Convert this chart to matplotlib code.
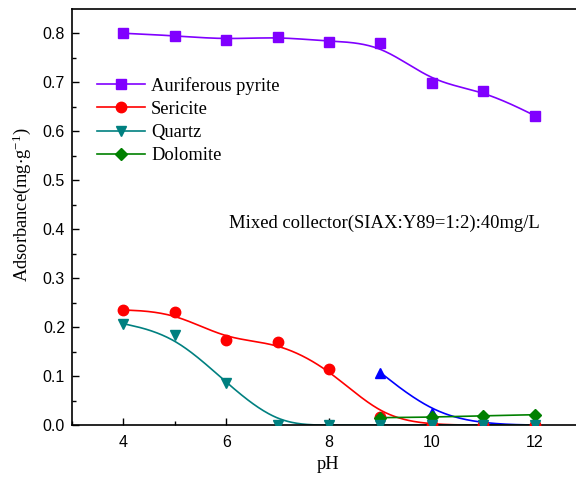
import numpy as np
import matplotlib
matplotlib.use('Agg')
import matplotlib.pyplot as plt
from matplotlib.ticker import MultipleLocator

ph = [4, 5, 6, 7, 8, 9, 10, 11, 12]
pyrite = [0.800, 0.795, 0.787, 0.793, 0.783, 0.780, 0.699, 0.683, 0.632]
sericite = [0.235, 0.230, 0.174, 0.169, 0.115, 0.017, 0.0, 0.0, 0.0]
quartz = [0.207, 0.183, 0.086, 0.0, 0.0, 0.0, 0.0, 0.0, 0.0]
ph_dolo = [9, 10, 11, 12]
dolomite = [0.015, 0.016, 0.019, 0.021]
ph_blue = [9, 10, 11, 12]
blue_vals = [0.107, 0.025, 0.002, 0.0]


def bspline(x, y, n=40):
    """uniform cubic B-spline, ends clamped (like Origin's B-spline line)"""
    px = np.r_[[x[0]] * 2, x, [x[-1]] * 2].astype(float)
    py = np.r_[[y[0]] * 2, y, [y[-1]] * 2].astype(float)
    t = np.linspace(0, 1, n, endpoint=False)
    b0 = (1 - t) ** 3 / 6
    b1 = (3 * t ** 3 - 6 * t ** 2 + 4) / 6
    b2 = (-3 * t ** 3 + 3 * t ** 2 + 3 * t + 1) / 6
    b3 = t ** 3 / 6
    xs, ys = [], []
    for i in range(len(px) - 3):
        xs.append(b0 * px[i] + b1 * px[i + 1] + b2 * px[i + 2] + b3 * px[i + 3])
        ys.append(b0 * py[i] + b1 * py[i + 1] + b2 * py[i + 2] + b3 * py[i + 3])
    xs.append([x[-1]])
    ys.append([y[-1]])
    return np.concatenate(xs), np.concatenate(ys)


serif = 'Liberation Serif'
sans = 'Liberation Sans'
plt.rcParams['mathtext.fontset'] = 'custom'
plt.rcParams['mathtext.rm'] = serif
plt.rcParams['mathtext.default'] = 'regular'

fig = plt.figure(figsize=(5.76, 4.79), dpi=100)
ax = fig.add_axes([0.125, 0.1127, 0.8924, 0.868])

series = [
    (ph, sericite, '#FF0000', 'o', 'Sericite'),
    (ph_blue, blue_vals, '#0000FF', '^', None),
    (ph_dolo, dolomite, '#008000', 'D', 'Dolomite'),
    (ph, quartz, '#008080', 'v', 'Quartz'),
    (ph, pyrite, '#8000FF', 's', 'Auriferous pyrite'),
]
handles = {}
for x, y, c, m, lab in series:
    sx, sy = bspline(x, y)
    ax.plot(sx, sy, color=c, lw=1.2, zorder=2)
    ms = 6.5 if m == 'D' else 7.5
    ax.plot(x, y, ls='none', marker=m, color=c, ms=ms, zorder=3)
    if lab:
        handles[lab] = ax.plot([], [], color=c, lw=1.2, marker=m, ms=ms)[0]

order = ['Auriferous pyrite', 'Sericite', 'Quartz', 'Dolomite']
ax.legend([handles[k] for k in order], order, loc='upper left',
          bbox_to_anchor=(0.035, 0.855), frameon=False,
          prop={'family': serif, 'size': 13.3}, handlelength=2.6,
          handletextpad=0.3, labelspacing=0.33, borderaxespad=0)

ax.text(0.305, 0.474, 'Mixed collector(SIAX:Y89=1:2):40mg/L',
        transform=ax.transAxes, family=serif, fontsize=13.4)

ax.set_xlim(3, 13)
ax.set_ylim(0, 0.849)
ax.xaxis.set_major_locator(MultipleLocator(2))
ax.xaxis.set_minor_locator(MultipleLocator(1))
ax.yaxis.set_major_locator(MultipleLocator(0.1))
ax.yaxis.set_minor_locator(MultipleLocator(0.05))
ax.tick_params(which='both', direction='in', top=False, right=False)
ax.tick_params(which='major', length=5, width=1, labelsize=11.5)
ax.tick_params(axis='x', which='major', pad=7)
ax.tick_params(axis='y', which='major', pad=5)
ax.tick_params(which='minor', length=3, width=1)
for lbl in ax.get_xticklabels() + ax.get_yticklabels():
    lbl.set_family(sans)
ax.xaxis.set_major_formatter(plt.FuncFormatter(lambda v, p: '%d' % v))
ax.yaxis.set_major_formatter(plt.FuncFormatter(lambda v, p: '%.1f' % v))
for s in ax.spines.values():
    s.set_linewidth(1.2)

ax.set_xlabel('pH', family=serif, fontsize=13.3)
ax.set_ylabel('Adsorbance(mg$\\cdot$g$^{-1}$)', family=serif, fontsize=13.3)
ax.xaxis.set_label_coords((328 - 72) / 514, -(456 - 425) / 416)
ax.yaxis.set_label_coords(-(72 - 33) / 514, 0.53)

fig.savefig('out.png', dpi=100)
